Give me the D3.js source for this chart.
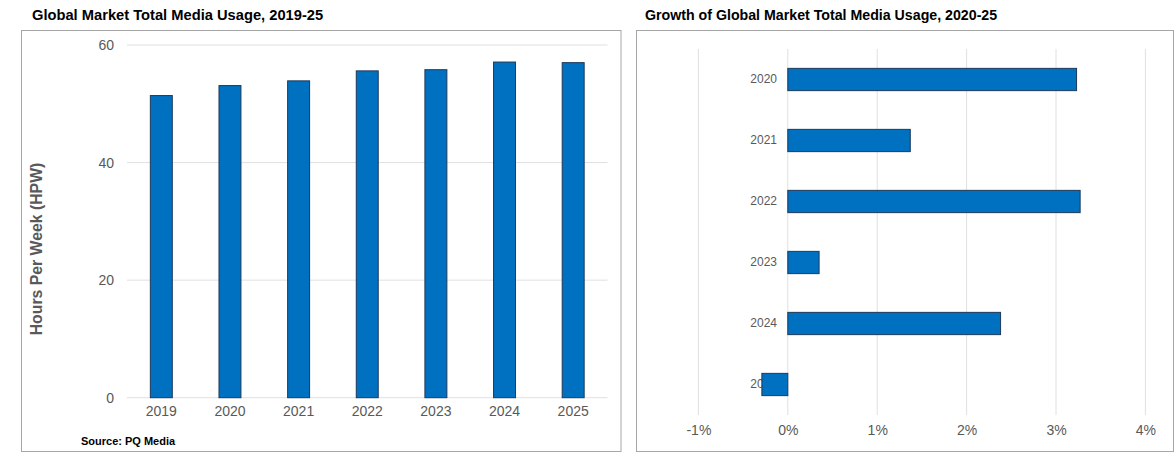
<!DOCTYPE html>
<html>
<head>
<meta charset="utf-8">
<script src="https://cdn.jsdelivr.net/npm/d3@7"></script>
<style>
  html, body { margin: 0; padding: 0; background: #fff; }
  svg { display: block; font-family: "Liberation Sans", Arial, sans-serif; }
</style>
</head>
<body>
<svg id="chart" width="1176" height="459"></svg>
<script>
// ---- Data ----
const usageYears = ["2019", "2020", "2021", "2022", "2023", "2024", "2025"];
const usageHours = [51.4, 53.1, 53.9, 55.6, 55.8, 57.1, 57.0];
const usageTicks = [0, 20, 40, 60];

const growthYears = ["2020", "2021", "2022", "2023", "2024", "2025"];
const growthPct = [3.23, 1.37, 3.27, 0.35, 2.38, -0.29];
const growthTicks = [-1, 0, 1, 2, 3, 4];

const leftTitle = "Global Market Total Media Usage, 2019-25";
const rightTitle = "Growth of Global Market Total Media Usage, 2020-25";
const yAxisTitle = "Hours Per Week (HPW)";
const sourceText = "Source: PQ Media";

// ---- Styles ----
const barFill = "#0070c0";
const barStroke = "#1d3a5a";
const gridColor = "#e0e0e0";
const tickColor = "#595959";
const panelStroke = "#a6a6a6";

const svg = d3.select("#chart");

// ================= LEFT PANEL =================
svg.append("rect").attr("x", 21.5).attr("y", 30.5).attr("width", 599.5).attr("height", 421)
  .attr("fill", "none").attr("stroke", panelStroke).attr("stroke-width", 1);

svg.append("text").attr("x", 32).attr("y", 19.5).attr("font-size", 14.7).attr("font-weight", "bold")
  .attr("fill", "#000").text(leftTitle);

const x1 = d3.scaleBand().domain(usageYears).range([127, 607.5]).paddingInner(0.68).paddingOuter(0.34);
const y1 = d3.scaleLinear().domain([0, 60]).range([397.7, 45]);

const g1 = svg.append("g");
// gridlines
g1.append("g").selectAll("line").data(usageTicks).join("line")
  .attr("x1", 127).attr("x2", 607.5)
  .attr("y1", d => y1(d)).attr("y2", d => y1(d))
  .attr("stroke", gridColor).attr("stroke-width", 1);

// y axis
const yAxis1 = d3.axisLeft(y1).tickValues(usageTicks).tickSize(0).tickPadding(0);
const ya = g1.append("g").attr("transform", "translate(114,0)").call(yAxis1);
ya.select(".domain").remove();
ya.selectAll("text").attr("font-size", 14).attr("fill", tickColor).attr("font-family", "Liberation Sans, Arial, sans-serif");

// x axis
const xAxis1 = d3.axisBottom(x1).tickSize(0).tickPadding(0);
const xa = g1.append("g").attr("transform", "translate(0,406)").call(xAxis1);
xa.select(".domain").remove();
xa.selectAll("text").attr("font-size", 14).attr("fill", tickColor).attr("font-family", "Liberation Sans, Arial, sans-serif");

// bars
g1.append("g").selectAll("rect").data(usageYears).join("rect")
  .attr("x", d => x1(d))
  .attr("width", x1.bandwidth())
  .attr("y", (d, i) => y1(usageHours[i]))
  .attr("height", (d, i) => y1(0) - y1(usageHours[i]))
  .attr("fill", barFill).attr("stroke", barStroke).attr("stroke-width", 1);

// y axis title
svg.append("text")
  .attr("transform", "translate(42,249) rotate(-90)")
  .attr("text-anchor", "middle").attr("font-size", 15.8).attr("font-weight", "bold")
  .attr("fill", tickColor).text(yAxisTitle);

// source
svg.append("text").attr("x", 81).attr("y", 445).attr("font-size", 11).attr("font-weight", "bold")
  .attr("fill", "#000").text(sourceText);

// ================= RIGHT PANEL =================
svg.append("rect").attr("x", 636.5).attr("y", 30.5).attr("width", 537).attr("height", 421)
  .attr("fill", "none").attr("stroke", panelStroke).attr("stroke-width", 1);

svg.append("text").attr("x", 645).attr("y", 19.5).attr("font-size", 14.2).attr("font-weight", "bold")
  .attr("fill", "#000").text(rightTitle);

const x2 = d3.scaleLinear().domain([-1, 4]).range([698.4, 1145.4]);
const y2 = d3.scaleBand().domain(growthYears).range([49, 415]).paddingInner(0.635).paddingOuter(0.3175);

const g2 = svg.append("g");
g2.append("g").selectAll("line").data(growthTicks).join("line")
  .attr("x1", d => x2(d)).attr("x2", d => x2(d))
  .attr("y1", 49).attr("y2", 415)
  .attr("stroke", gridColor).attr("stroke-width", 1);

const xAxis2 = d3.axisBottom(x2).tickValues(growthTicks).tickFormat(d => d + "%").tickSize(0).tickPadding(0);
const xb = g2.append("g").attr("transform", "translate(0,425)").call(xAxis2);
xb.select(".domain").remove();
xb.selectAll("text").attr("font-size", 14).attr("fill", tickColor).attr("font-family", "Liberation Sans, Arial, sans-serif");

const yAxis2 = d3.axisLeft(y2).tickSize(0).tickPadding(0);
const yb = g2.append("g").attr("transform", "translate(777,0)").call(yAxis2);
yb.select(".domain").remove();
yb.selectAll("text").attr("font-size", 12).attr("fill", tickColor).attr("font-family", "Liberation Sans, Arial, sans-serif");

g2.append("g").selectAll("rect").data(growthYears).join("rect")
  .attr("y", d => y2(d))
  .attr("height", y2.bandwidth())
  .attr("x", (d, i) => x2(Math.min(0, growthPct[i])))
  .attr("width", (d, i) => Math.abs(x2(growthPct[i]) - x2(0)))
  .attr("fill", barFill).attr("stroke", barStroke).attr("stroke-width", 1);
</script>
</body>
</html>
